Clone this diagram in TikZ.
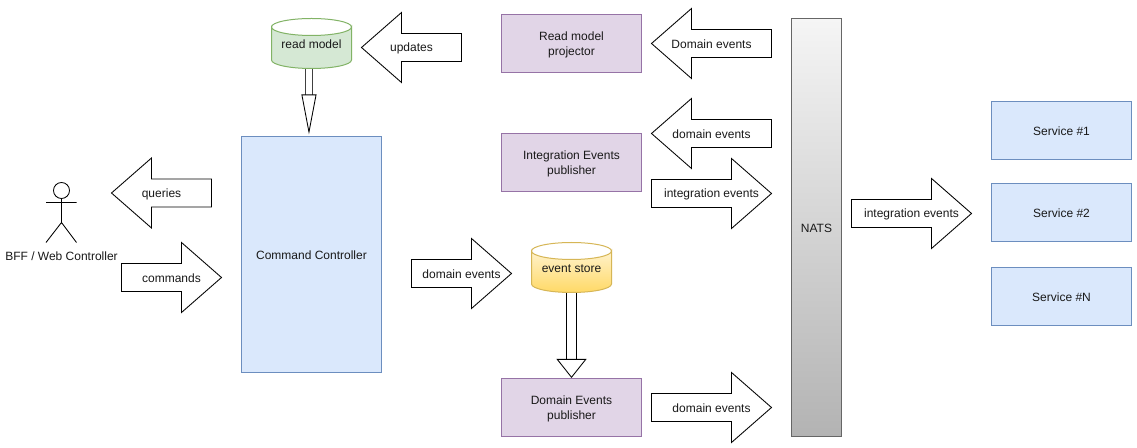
\documentclass[tikz,border=0pt]{standalone}
\usepackage{fontspec}
\setmainfont{Liberation Sans}
\usetikzlibrary{arrows.meta}
\definecolor{bluef}{HTML}{DAE8FC}\definecolor{blued}{HTML}{6C8EBF}
\definecolor{purpf}{HTML}{E1D5E7}\definecolor{purpd}{HTML}{9673A6}
\definecolor{greenf}{HTML}{D5E8D4}\definecolor{greend}{HTML}{82B366}
\definecolor{yeltop}{HTML}{FFF2CC}\definecolor{yelbot}{HTML}{FFD966}\definecolor{yeld}{HTML}{D6B656}
\definecolor{natstop}{HTML}{F5F5F5}\definecolor{natsbot}{HTML}{B3B3B3}\definecolor{natsd}{HTML}{666666}
\newcommand{\ST}{\vrule width 0pt height 8.5pt depth 1pt}
% right-pointing block arrow: name, left, head base, tip, centre y, text
\newcommand{\rightblock}[6]{%
  \draw[blockline] (#2,#5-14) -- (#3,#5-14) -- (#3,#5-35) -- (#4,#5) -- (#3,#5+35) -- (#3,#5+14) -- (#2,#5+14) -- cycle;
  \node[lbl] (#1) at ({(#2+#4)/2},#5) {\ST #6};}
% left-pointing block arrow: name, tip, head base, right, centre y, text
\newcommand{\leftblock}[6]{%
  \draw[blockline] (#4,#5-14) -- (#3,#5-14) -- (#3,#5-35) -- (#2,#5) -- (#3,#5+35) -- (#3,#5+14) -- (#4,#5+14) -- cycle;
  \node[lbl] (#1) at ({(#2+#4)/2},#5) {\ST #6};}
\tikzset{
  blockline/.style={draw=black,fill=white,line width=0.65pt,miter limit=10},
  lbl/.style={font=\fontsize{9}{11.25}\selectfont,align=center,inner sep=0pt,text=black!90},
  box/.style={lbl,draw,line width=0.75pt,minimum width=105pt,minimum height=43.5pt},
  bluebox/.style={box,fill=bluef,draw=blued},
  purplebox/.style={box,fill=purpf,draw=purpd},
  cylbox/.style={lbl,minimum width=60pt,minimum height=37.5pt},
  actorline/.style={draw=black,line width=0.65pt},
}
\begin{document}
\begin{tikzpicture}[x=0.75pt,y=-0.75pt]
\useasboundingbox (0,0) rectangle (1137,448);
\fill[white] (0,0) rectangle (1137,448);

% boxes
\node[purplebox] (rmp) at (571.5,43.5) {\ST Read model\\\ST projector};
\node[purplebox] (iep) at (571.5,162.5) {\ST Integration Events\\\ST publisher};
\node[purplebox] (dep) at (571.5,407.5) {\ST Domain Events\\\ST publisher};
\node[bluebox,minimum height=177pt] (cc) at (311.5,254.5) {\ST Command Controller};
\node[bluebox] (s1) at (1061.5,130.5) {\ST Service \#1};
\node[bluebox] (s2) at (1061.5,212.5) {\ST Service \#2};
\node[bluebox] (sn) at (1061.5,296.5) {\ST Service \#N};
\node[lbl,draw=natsd,line width=0.75pt,top color=natstop,bottom color=natsbot,minimum width=37.5pt,minimum height=313.5pt] (nats) at (816.5,227.5) {\ST NATS};

% cylinders
\coordinate (rmc) at (311.5,43.5);
\path[draw=greend,fill=greenf,line width=0.75pt]
  (271.5,27) arc[start angle=180,end angle=0,x radius=40,y radius=8.5]
  -- (351.5,60) arc[start angle=0,end angle=180,x radius=40,y radius=8.5] -- cycle;
\draw[greend,line width=0.75pt] (271.5,27) arc[start angle=180,end angle=360,x radius=40,y radius=8.5];
\node[cylbox] (rm) at (rmc) {\ST read model};
\coordinate (esc) at (571.5,267.5);
\path[draw=yeld,top color=yeltop,bottom color=yelbot,line width=0.75pt]
  (531.5,251) arc[start angle=180,end angle=0,x radius=40,y radius=8.5]
  -- (611.5,284) arc[start angle=0,end angle=180,x radius=40,y radius=8.5] -- cycle;
\draw[yeld,line width=0.75pt] (531.5,251) arc[start angle=180,end angle=360,x radius=40,y radius=8.5];
\node[cylbox] (es) at (esc) {\ST event store};

% block arrows
\leftblock{aqueries}{111.5}{151.5}{211.5}{193}{queries}
\rightblock{acommands}{121.5}{181.5}{221.5}{277.5}{commands}
\leftblock{aupdates}{361.5}{401.5}{461.5}{47.5}{updates}
\leftblock{adom1}{651.5}{691.5}{771.5}{43.5}{Domain events}
\leftblock{adom2}{651.5}{691.5}{771.5}{133.5}{domain events}
\rightblock{aint1}{651.5}{731.5}{771.5}{193.5}{integration events}
\rightblock{aint2}{851.5}{931.5}{971.5}{213.5}{integration events}
\rightblock{adom3}{411.5}{471.5}{511.5}{273.5}{domain events}
\rightblock{adom4}{651.5}{731.5}{771.5}{407.5}{domain events}

% flex connectors
\draw[line width=0.75pt,draw=black!75,double=white,double distance=4.2pt,shorten >=1.2pt,
  -{Triangle[length=30pt,width=11.25pt,open,fill=white,line width=0.65pt,color=black]}] ([xshift=-1.9pt]rm.south) -- ([xshift=-1.9pt]cc.north);
\draw[line width=0.75pt,double=white,double distance=6.8pt,shorten >=0pt,
  -{Triangle[length=14.25pt,width=22.5pt,open,fill=white,line width=0.65pt]}] (es.south) -- (dep.north);

% actor
\node[circle,actorline,minimum size=12pt,inner sep=0pt] (head) at (61.5,190.5) {};
\coordinate (hip) at (61.5,222.5);
\coordinate (armL) at (46,202.5);
\coordinate (armR) at (76.5,202.5);
\coordinate (legL) at (46,242.5);
\coordinate (legR) at (76.5,242.5);
\draw[actorline] (head.south) -- (hip) (armL) -- (armR) (legL) -- (hip) -- (legR);
\node[lbl] (actor) at (61.5,255.5) {\ST BFF / Web Controller};
\end{tikzpicture}
\end{document}
